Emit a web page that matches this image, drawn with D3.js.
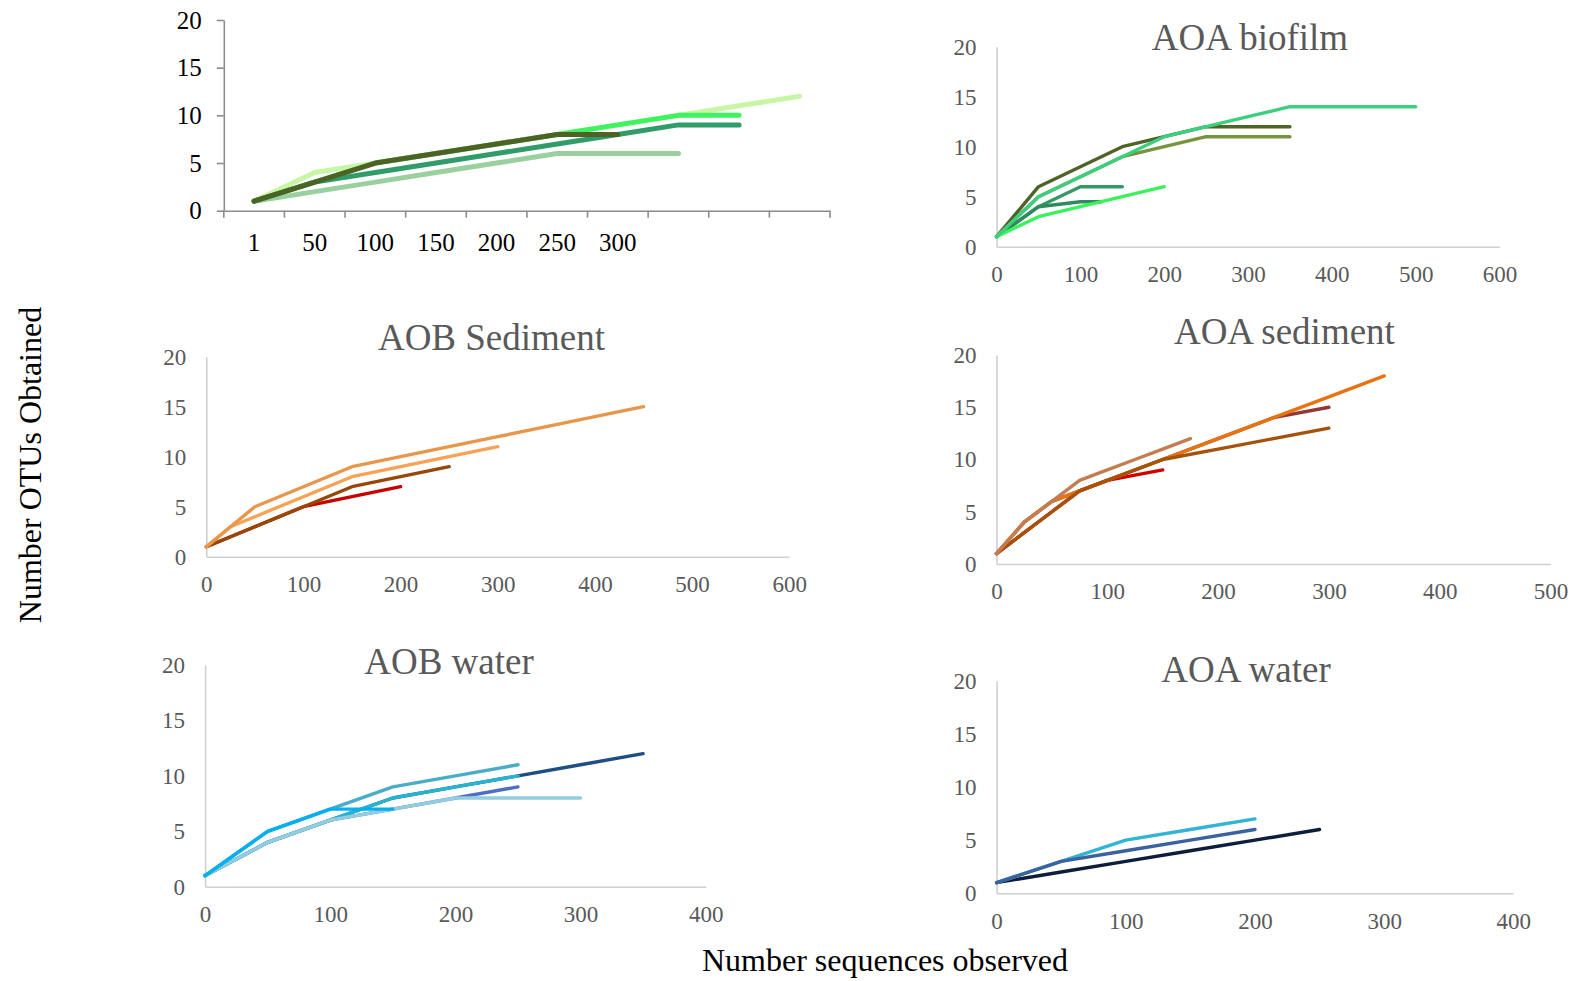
<!DOCTYPE html>
<html>
<head>
<meta charset="utf-8">
<script src="https://cdn.jsdelivr.net/npm/d3@7"></script>
<style>
  html, body { margin: 0; padding: 0; background: #fff; }
  svg { display: block; }
  text { font-family: "Liberation Serif", "Times New Roman", serif; }
</style>
</head>
<body>
<script>
// ---------------- DATA ----------------
const yTicks = [0, 5, 10, 15, 20];

// Panel 1 (untitled, category axis)
const p1Categories = ["1", "50", "100", "150", "200", "250", "300", "", "", ""];
const p1PaleGreen = [1, 4, 5, 6, 7, 8, 9, 10, 11, 12];
const p1PaleSeaGreen = [1, 2, 3, 4, 5, 6, 6, 6];
const p1BrightGreen = [1, 3, 5, 6, 7, 8, 9, 10, 10];
const p1SeaGreen = [1, 3, 4, 5, 6, 7, 8, 9, 9];
const p1DarkOlive = [1, 3, 5, 6, 7, 8, 8];

// AOA biofilm
const bioXTicks = [0, 100, 200, 300, 400, 500, 600];
const bioDarkOlive = [[0,1],[50,6],[100,8],[150,10],[200,11],[250,12],[300,12],[350,12]];
const bioOlive = [[0,1],[50,5],[100,7],[150,9],[200,10],[250,11],[300,11],[350,11]];
const bioDarkSea = [[0,1],[50,4],[100,6],[150,6]];
const bioDeepSea = [[0,1],[50,4],[100,4.5],[125,4.5]];
const bioBright = [[0,1],[50,3],[100,4],[150,5],[200,6]];
const bioSea = [[0,1],[50,5],[100,7],[150,9],[200,11],[250,12],[300,13],[350,14],[400,14],[450,14],[500,14]];

// AOB Sediment
const aobSedXTicks = [0, 100, 200, 300, 400, 500, 600];
const aobSedRed = [[0,1],[50,3],[100,5],[150,6],[200,7]];
const aobSedBrown = [[0,1],[50,3],[100,5],[150,7],[200,8],[250,9]];
const aobSedLight = [[0,1],[25,3],[50,4],[100,6],[150,8],[200,9],[250,10],[300,11]];
const aobSedTan = [[0,1],[50,5],[100,7],[150,9],[200,10],[250,11],[300,12],[350,13],[400,14],[450,15]];

// AOA sediment
const aoaSedXTicks = [0, 100, 200, 300, 400, 500];
const aoaSedMaroon = [[0,1],[25,4],[50,6],[75,7],[100,8],[150,10],[200,12],[250,14],[300,15]];
const aoaSedRed = [[0,1],[25,3],[50,5],[75,7],[100,8],[150,9]];
const aoaSedOrange = [[0,1],[25,4],[50,6],[75,7],[100,8],[150,10],[200,12],[250,14],[300,16],[350,18]];
const aoaSedBrown = [[0,1],[25,3],[50,5],[75,7],[100,8],[150,10],[200,11],[250,12],[300,13]];
const aoaSedTan = [[0,1],[25,4],[50,6],[75,8],[100,9],[125,10],[150,11],[175,12]];

// AOB water
const aobWatXTicks = [0, 100, 200, 300, 400];
const aobWatNavy = [[0,1],[50,4],[100,6],[150,8],[200,9],[250,10],[300,11],[350,12]];
const aobWatSlate = [[0,1],[50,4],[100,6],[150,7],[200,8],[250,9]];
const aobWatCyan = [[0,1],[50,4],[100,6],[150,8],[200,9],[250,10]];
const aobWatLight = [[0,1],[50,4],[100,6],[150,7],[200,8],[250,8],[300,8]];
const aobWatTeal = [[0,1],[50,5],[100,7],[150,9],[200,10],[250,11]];
const aobWatBlue = [[0,1],[50,5],[100,7],[150,7]];

// AOA water
const aoaWatXTicks = [0, 100, 200, 300, 400];
const aoaWatNavy = [[0,1],[50,2],[100,3],[150,4],[200,5],[250,6]];
const aoaWatCyan = [[0,1],[50,3],[100,5],[150,6],[200,7]];
const aoaWatSteel = [[0,1],[50,3],[100,4],[150,5],[200,6]];

// ---------------- DRAW ----------------
const W = 1574, H = 981;
const svg = d3.select("body").append("svg").attr("width", W).attr("height", H);
svg.append("rect").attr("width", W).attr("height", H).attr("fill", "#fff");

const FONT = '"Liberation Serif", "Times New Roman", serif';

// ---- Panel 1: category axis, black labels ----
(function () {
  const g = svg.append("g");
  const x = d3.scaleBand().domain(d3.range(p1Categories.length)).range([223.8, 830]).padding(0);
  const y = d3.scaleLinear().domain([0, 20]).range([210.7, 20]);

  const ya = g.append("g").attr("transform", `translate(${x.range()[0]},0)`)
    .call(d3.axisLeft(y).tickValues(yTicks).tickSize(7).tickPadding(15).tickSizeOuter(0));
  ya.select(".domain").attr("stroke", "#8c8c8c").attr("stroke-width", 1.6);
  ya.selectAll(".tick line").attr("stroke", "#8c8c8c").attr("stroke-width", 1.6);
  ya.selectAll("text").attr("font-family", FONT).attr("font-size", 25).attr("fill", "#000");

  const xa = g.append("g").attr("transform", `translate(0,${y(0)})`)
    .call(d3.axisBottom(x).tickSize(0).tickPadding(23).tickFormat(i => p1Categories[i]));
  xa.select(".domain").attr("stroke", "#8c8c8c").attr("stroke-width", 1.6);
  xa.selectAll("text").attr("font-family", FONT).attr("font-size", 25).attr("fill", "#000");
  const bounds = d3.range(p1Categories.length + 1).map(i => x.range()[0] + i * x.step());
  g.append("g").selectAll("line").data(bounds).join("line")
    .attr("x1", d => d).attr("x2", d => d)
    .attr("y1", y(0)).attr("y2", y(0) + 7)
    .attr("stroke", "#8c8c8c").attr("stroke-width", 1.6);

  const series = [
    { v: p1PaleGreen, c: "#c8f6a4" },
    { v: p1PaleSeaGreen, c: "#9ad09f" },
    { v: p1BrightGreen, c: "#3ef45e" },
    { v: p1SeaGreen, c: "#2f9c69" },
    { v: p1DarkOlive, c: "#4e6226" }
  ];
  const line = d3.line().x((d, i) => x(i) + x.bandwidth() / 2).y(d => y(d));
  g.selectAll("path.series").data(series).join("path").attr("class", "series")
    .attr("d", s => line(s.v)).attr("fill", "none").attr("stroke", s => s.c)
    .attr("stroke-width", 5).attr("stroke-linecap", "round").attr("stroke-linejoin", "round");
})();

// ---- Generic numeric panel ----
function panel(cfg) {
  const g = svg.append("g");
  const x = d3.scaleLinear().domain([0, cfg.xMax]).range(cfg.xr);
  const y = d3.scaleLinear().domain([0, 20]).range(cfg.yr);

  const ya = g.append("g").attr("transform", `translate(${cfg.xr[0]},0)`)
    .call(d3.axisLeft(y).tickValues(yTicks).tickSize(0).tickPadding(20));
  ya.select(".domain").attr("stroke", "#d0d0d0").attr("stroke-width", 1.6);
  ya.selectAll("text").attr("font-family", FONT).attr("font-size", 23).attr("fill", "#595959");

  const xa = g.append("g").attr("transform", `translate(0,${cfg.yr[0]})`)
    .call(d3.axisBottom(x).tickValues(cfg.xTicks).tickSize(0).tickPadding(19));
  xa.select(".domain").attr("stroke", "#d0d0d0").attr("stroke-width", 1.6);
  xa.selectAll("text").attr("font-family", FONT).attr("font-size", 23).attr("fill", "#595959");

  if (cfg.title) {
    g.append("text").attr("x", cfg.titleX).attr("y", cfg.titleY)
      .attr("text-anchor", "middle").attr("font-family", FONT).attr("font-size", 37)
      .attr("fill", "#595959").text(cfg.title);
  }

  const line = d3.line().x(d => x(d[0])).y(d => y(d[1]));
  g.selectAll("path.series").data(cfg.series).join("path").attr("class", "series")
    .attr("d", s => line(s.v)).attr("fill", "none").attr("stroke", s => s.c)
    .attr("stroke-width", 3.4).attr("stroke-linecap", "round").attr("stroke-linejoin", "round");
}

panel({
  title: "AOA biofilm", titleX: 1250, titleY: 50,
  xMax: 600, xr: [996.6, 1499.5], yr: [246.7, 46.7], xTicks: bioXTicks,
  series: [
    { v: bioDarkOlive, c: "#4f6228" },
    { v: bioOlive, c: "#77933c" },
    { v: bioDarkSea, c: "#339966" },
    { v: bioDeepSea, c: "#2e8b5e" },
    { v: bioBright, c: "#3cf25c" },
    { v: bioSea, c: "#3ccf7e" }
  ]
});

panel({
  title: "AOB Sediment", titleX: 491.5, titleY: 350,
  xMax: 600, xr: [206.3, 789.2], yr: [556.7, 356.7], xTicks: aobSedXTicks,
  series: [
    { v: aobSedRed, c: "#c80000" },
    { v: aobSedBrown, c: "#974706" },
    { v: aobSedLight, c: "#f9a255" },
    { v: aobSedTan, c: "#e8964a" }
  ]
});

panel({
  title: "AOA sediment", titleX: 1284.4, titleY: 344.3,
  xMax: 500, xr: [996.5, 1550.5], yr: [564, 355], xTicks: aoaSedXTicks,
  series: [
    { v: aoaSedMaroon, c: "#953735" },
    { v: aoaSedRed, c: "#d00000" },
    { v: aoaSedOrange, c: "#e8730f" },
    { v: aoaSedBrown, c: "#a4520c" },
    { v: aoaSedTan, c: "#c47d50" }
  ]
});

panel({
  title: "AOB water", titleX: 449, titleY: 674.3,
  xMax: 400, xr: [205.1, 705.7], yr: [886.7, 665], xTicks: aobWatXTicks,
  series: [
    { v: aobWatNavy, c: "#1f4e85" },
    { v: aobWatSlate, c: "#4e6fc0" },
    { v: aobWatCyan, c: "#27b4d2" },
    { v: aobWatLight, c: "#93cde0" },
    { v: aobWatTeal, c: "#4aacc6" },
    { v: aobWatBlue, c: "#00b0f0" }
  ]
});

panel({
  title: "AOA water", titleX: 1246, titleY: 681.7,
  xMax: 400, xr: [996.6, 1513.3], yr: [893.3, 680.7], xTicks: aoaWatXTicks,
  series: [
    { v: aoaWatNavy, c: "#0e1d3a" },
    { v: aoaWatCyan, c: "#31b5d2" },
    { v: aoaWatSteel, c: "#3b62a0" }
  ]
});

// ---- Shared axis titles ----
svg.append("text").attr("x", 885).attr("y", 971)
  .attr("text-anchor", "middle").attr("font-family", FONT).attr("font-size", 32)
  .attr("fill", "#000").text("Number sequences observed");

svg.append("text").attr("transform", "translate(41,465) rotate(-90)")
  .attr("text-anchor", "middle").attr("font-family", FONT).attr("font-size", 32)
  .attr("fill", "#000").text("Number OTUs Obtained");
</script>
</body>
</html>
